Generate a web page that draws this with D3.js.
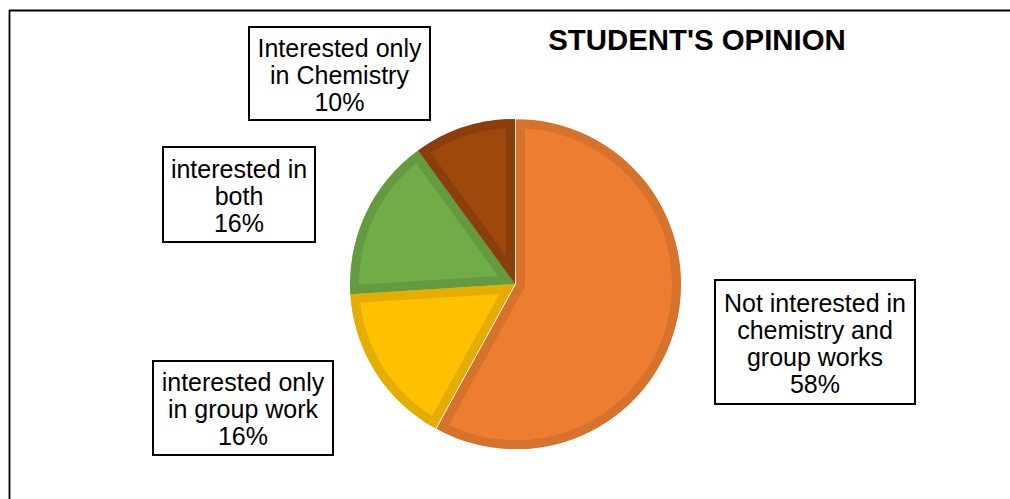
<!DOCTYPE html>
<html>
<head>
<meta charset="utf-8">
<script src="https://cdn.jsdelivr.net/npm/d3@7"></script>
<style>
  html, body { margin: 0; padding: 0; background: #fff; }
  svg { display: block; }
  text { font-family: "Liberation Sans", Arial, sans-serif; }
</style>
</head>
<body>
<svg id="chart" width="1010" height="499"></svg>
<script>
// ---- data ----
const title = "STUDENT'S OPINION";
const categories = [
  "Not interested in chemistry and group works",
  "interested only in group work",
  "interested in both",
  "Interested only in Chemistry"
];
const values = [58, 16, 16, 10];
const labelLines = [
  ["Not interested in", "chemistry and", "group works"],
  ["interested only", "in group work"],
  ["interested in", "both"],
  ["Interested only", "in Chemistry"]
];
const fills   = ["#ED7D31", "#FFC000", "#70AD47", "#9E480E"];
const borders = ["#D7722C", "#E5AD00", "#659B40", "#8A3E0C"];

// ---- layout ----
const W = 1010, H = 499;
const cx = 515, cy = 284, R = 165;
const explode = [1, 0, 0, 0];
const boxes = [
  {x: 715, y: 280, w: 200, h: 124},
  {x: 153, y: 361, w: 180, h: 94},
  {x: 163, y: 147, w: 152, h: 95},
  {x: 249, y: 27,  w: 181, h: 93}
];
const lineH = 27;

const svg = d3.select("#chart");

// frame lines (top and left)
svg.append("line").attr("x1", 9).attr("y1", 10.5).attr("x2", 1010).attr("y2", 10.5)
  .attr("stroke", "#000").attr("stroke-width", 1.8);
svg.append("line").attr("x1", 9.5).attr("y1", 10).attr("x2", 9.5).attr("y2", H)
  .attr("stroke", "#000").attr("stroke-width", 1.8);

// title
svg.append("text").attr("x", 697).attr("y", 50).attr("text-anchor", "middle")
  .attr("font-weight", "bold").attr("font-size", 29.4).attr("fill", "#000")
  .text(title);

// pie
const pie = d3.pie().sort(null).value(d => d)(values);
const arc = d3.arc().innerRadius(0).outerRadius(R);
const defs = svg.append("defs");

pie.forEach((p, i) => {
  const mid = (p.startAngle + p.endAngle) / 2;
  const dx = Math.sin(mid) * explode[i], dy = -Math.cos(mid) * explode[i];
  const d = arc(p);
  const cid = "clip" + i;
  defs.append("clipPath").attr("id", cid)
    .append("path").attr("d", d);
  svg.append("g")
    .attr("transform", `translate(${cx + dx},${cy + dy})`)
    .append("path")
    .attr("d", d)
    .attr("clip-path", `url(#${cid})`)
    .attr("fill", fills[i])
    .attr("stroke", borders[i])
    .attr("stroke-width", 18)
    .attr("stroke-linejoin", "miter");
});

// labels
pie.forEach((p, i) => {
  const b = boxes[i];
  svg.append("rect").attr("x", b.x).attr("y", b.y).attr("width", b.w).attr("height", b.h)
    .attr("fill", "#fff").attr("stroke", "#000").attr("stroke-width", 2);
  const lines = labelLines[i].concat([Math.round(values[i] / d3.sum(values) * 100) + "%"]);
  const n = lines.length;
  const mx = b.x + b.w / 2;
  const my = b.y + b.h / 2 + 1;
  const t = svg.append("text").attr("text-anchor", "middle").attr("font-size", 25).attr("fill", "#000");
  lines.forEach((ln, k) => {
    t.append("tspan").attr("x", mx)
      .attr("y", my + (k - (n - 1) / 2) * lineH + 9)
      .text(ln);
  });
});
</script>
</body>
</html>
